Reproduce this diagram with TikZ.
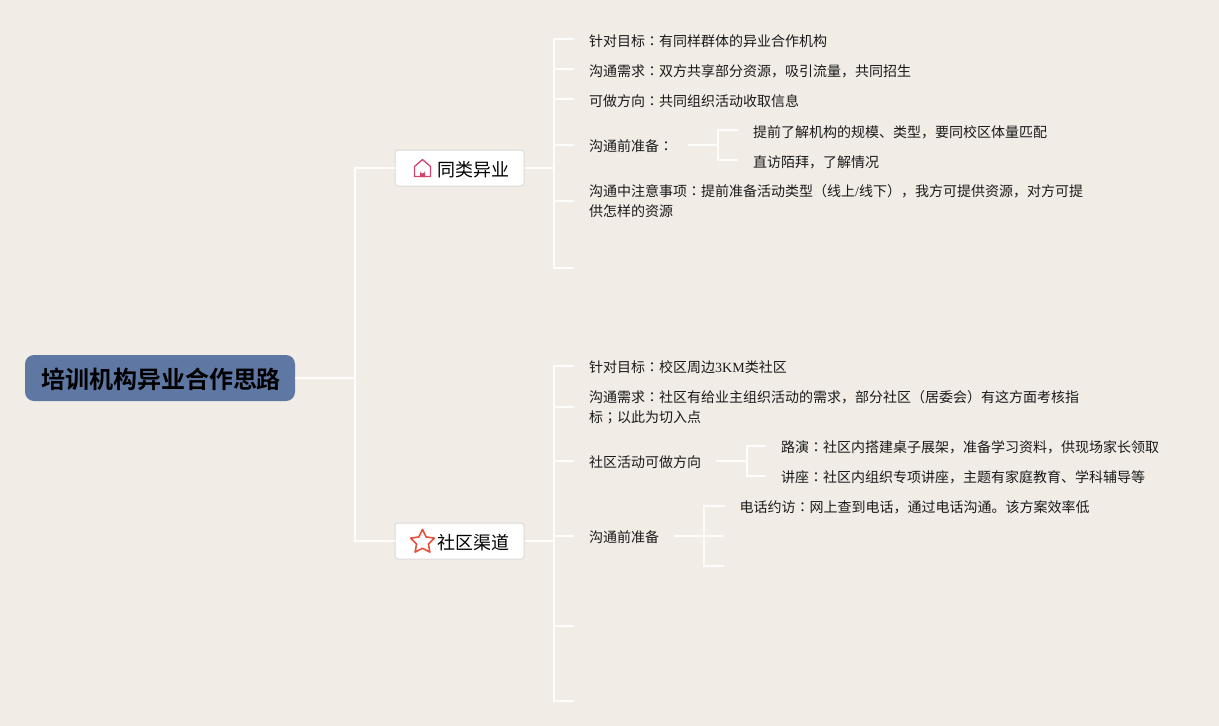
\documentclass[tikz,border=0pt]{standalone}
\usepackage{fontspec}
\usetikzlibrary{shapes.geometric}
\setmainfont{Noto Sans CJK SC}
\newfontfamily\tcf{Noto Sans CJK TC}
\newfontfamily\latf{Liberation Serif}
\newfontfamily\boldcjk[BoldFont={Noto Sans CJK SC Bold}]{Noto Sans CJK SC}
\newcommand{\cn}{{\tcf ：}}
\newcommand{\sm}{{\tcf ；}}
\definecolor{bgc}{HTML}{F1ECE6}
\definecolor{linec}{HTML}{FDFCFB}
\definecolor{rootc}{HTML}{5F78A3}
\definecolor{boxb}{HTML}{DDDAD8}
\definecolor{homec}{HTML}{D6446E}
\definecolor{starc}{HTML}{E5503C}
\definecolor{txt}{HTML}{1A1A1A}
\tikzset{
  conn/.style={draw=linec,line width=2pt},
  leaf/.style={anchor=west,inner xsep=15pt,inner ysep=0pt,font=\fontsize{14}{20}\selectfont,text=txt,text height=15.4pt,text depth=2.6pt},
  leaflow/.style={leaf,text height=16.4pt,text depth=1.6pt},
  leaftwo/.style={anchor=west,inner xsep=15pt,inner ysep=0pt,font=\fontsize{14}{20}\selectfont,text=txt,align=left},
  branch/.style={draw=boxb,line width=1pt,fill=white,rounded corners=3pt,minimum width=129pt,minimum height=36pt,inner sep=0pt,font=\fontsize{18}{22}\selectfont,text=black,text height=17pt,text depth=1pt},
  rootn/.style={fill=rootc,rounded corners=9pt,minimum width=270pt,minimum height=46pt,inner sep=0pt,font=\fontsize{24}{28}\selectfont\bfseries,text=black,text height=22pt,text depth=1pt},
}
\begin{document}
\begin{tikzpicture}[x=1pt,y=-1pt]
\fill[bgc] (0,0) rectangle (1219,726);
\useasboundingbox (0,0) rectangle (1219,726);

\node[rootn] (root) at (160,378) {\hspace*{2pt}{\boldcjk\bfseries 培训机构异业合作思路}};
\node[branch] (b1) at (459.5,168) {\hspace*{28pt}同类异业};
\node[branch] (b2) at (459.5,541) {\hspace*{28pt}社区渠道};

\coordinate (j0) at (355,378);
\coordinate (j1) at (554,168);
\coordinate (j2) at (554,541);
\coordinate (j11) at (718,145);
\coordinate (j23) at (747,461);
\coordinate (j24) at (704,536);

% first branch leaves
\node[leaflow] (a1) at (574,39) {针对目标\cn 有同样群体的异业合作机构};
\node[leaflow] (a2) at (574,69) {沟通需求\cn 双方共享部分资源，吸引流量，共同招生};
\node[leaflow] (a3) at (574,99) {可做方向\cn 共同组织活动收取信息};
\node[leaf] (a4) at (574,145) {沟通前准备\cn};
\node[leaftwo] (a5) at (574,201) {沟通中注意事项\cn 提前准备活动类型（线上{\latf /}线下），我方可提供资源，对方可提\\供怎样的资源};
\coordinate (a6) at (574,268);
\node[leaflow] (a41) at (738,130) {提前了解机构的规模、类型，要同校区体量匹配};
\node[leaflow] (a42) at (738,160) {直访陌拜，了解情况};

% second branch leaves
\node[leaf] (c1) at (574,366) {针对目标\cn 校区周边{\latf 3KM}类社区};
\node[leaftwo] (c2) at (574,407) {沟通需求\cn 社区有给业主组织活动的需求，部分社区（居委会）有这方面考核指\\标\sm 以此为切入点};
\node[leaf] (c3) at (574,461) {社区活动可做方向};
\node[leaf] (c4) at (574,536) {沟通前准备};
\coordinate (c5) at (574,626);
\coordinate (c6) at (574,701);
\node[leaf] (c31) at (766,446) {路演\cn 社区内搭建桌子展架，准备学习资料，供现场家长领取};
\node[leaf] (c32) at (766,476) {讲座\cn 社区内组织专项讲座，主题有家庭教育、学科辅导等};
\node[leaf] (c41) at (724.5,506) {电话约访\cn 网上查到电话，通过电话沟通。该方案效率低};
\coordinate (c42) at (724,536);
\coordinate (c43) at (724,566);

% connectors
\draw[conn] (root.east) -- (j0);
\draw[conn] (j0) |- (b1.west);
\draw[conn] (j0) |- (b2.west);
\draw[conn] (b1.east) -- (j1);
\draw[conn] (b2.east) -- (j2);
\foreach \t in {a1,a2,a3,a4,a5,a6}{\draw[conn] (j1) |- (\t);}
\foreach \t in {c1,c2,c3,c4,c5,c6}{\draw[conn] (j2) |- (\t);}
\draw[conn] (a4.east) -- (j11);
\foreach \t in {a41,a42}{\draw[conn] (j11) |- (\t);}
\draw[conn] (c3.east) -- (j23);
\foreach \t in {c31,c32}{\draw[conn] (j23) |- (\t);}
\draw[conn] (c4.east) -- (j24);
\foreach \t in {c41,c42,c43}{\draw[conn] (j24) |- (\t);}

% icons
\draw[homec,line width=1.3pt,line join=round] (414.5,176.5) -- (414.5,166.5) -- (422.5,159.5) -- (430.5,166.5) -- (430.5,176.5) -- cycle;
\fill[homec] (420,177) -- (420,171) arc[start angle=180,end angle=0,radius=2.5] -- (425,177) -- cycle;
\node[star,star points=5,star point ratio=2,draw=starc,line width=1.6pt,line join=round,minimum size=25pt,inner sep=0pt] (s2) at (422.5,542) {};
\end{tikzpicture}
\end{document}
